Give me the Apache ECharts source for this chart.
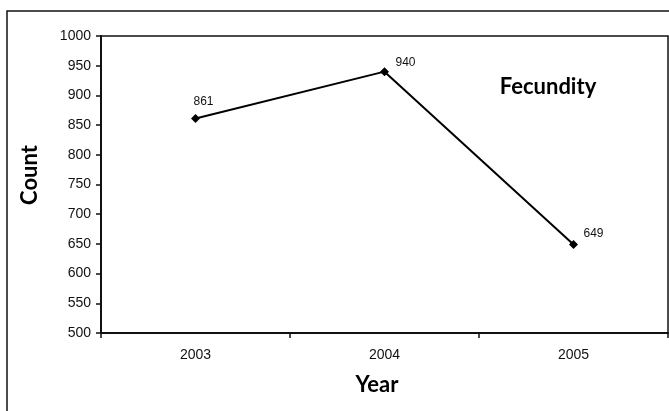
<!DOCTYPE html>
<html>
<head>
<meta charset="utf-8">
<script src="https://cdn.jsdelivr.net/npm/echarts@6/dist/echarts.min.js"></script>
<style>
  html, body { margin: 0; padding: 0; background: #fff; }
  #chart { width: 669px; height: 411px; }
</style>
</head>
<body>
<div id="chart"></div>
<script>
// Yearly fecundity counts
const years = ['2003', '2004', '2005'];
const counts = [861, 940, 649];
const yTicks = { min: 500, max: 1000, step: 50 };

// per-point value label nudges (px), label centred on the marker first
const labelNudge = [[8, -17], [21, -9], [20, -11]];

const chart = echarts.init(document.getElementById('chart'), null, { renderer: 'canvas' });

const seriesData = counts.map((v, i) => ({
  value: v,
  label: { offset: labelNudge[i] }
}));

chart.setOption({
  animation: false,
  backgroundColor: '#ffffff',
  grid: {
    left: 101, top: 36, right: 1, bottom: 78,
    show: true, borderColor: '#111', borderWidth: 1.5,
    backgroundColor: 'transparent'
  },
  xAxis: {
    type: 'category',
    data: years,
    boundaryGap: true,
    axisLine: { lineStyle: { color: '#111', width: 2 } },
    axisTick: { show: true, inside: false, length: 5, interval: 0, lineStyle: { color: '#111', width: 1.5 } },
    axisLabel: { margin: 15, fontFamily: 'Liberation Sans', fontSize: 14, color: '#111' },
    splitLine: { show: false }
  },
  yAxis: {
    type: 'value',
    min: yTicks.min, max: yTicks.max, interval: yTicks.step,
    axisLine: { show: true, lineStyle: { color: '#111', width: 2 } },
    axisTick: { show: true, inside: false, length: 5, lineStyle: { color: '#111', width: 1.5 } },
    axisLabel: {
      margin: 10, fontFamily: 'Liberation Sans', fontSize: 14, color: '#111',
      formatter: v => String(v)
    },
    splitLine: { show: false }
  },
  series: [{
    type: 'line',
    data: seriesData,
    symbol: 'diamond',
    symbolSize: 9,
    lineStyle: { color: '#000', width: 2 },
    itemStyle: { color: '#000' },
    label: {
      show: true,
      position: 'inside',
      fontFamily: 'Liberation Sans',
      fontSize: 12,
      color: '#111'
    }
  }],
  graphic: [
    {
      type: 'rect',
      shape: { x: 7, y: 11, width: 700, height: 500 },
      style: { fill: 'none', stroke: '#111', lineWidth: 1.5 },
      silent: true
    },
    {
      type: 'text',
      x: 548, y: 87,
      style: {
        text: 'Fecundity', font: 'bold 22px Lato',
        fill: '#000', textAlign: 'center', textVerticalAlign: 'middle'
      }
    },
    {
      type: 'text',
      x: 377, y: 385,
      style: {
        text: 'Year', font: 'bold 22px Lato',
        fill: '#000', textAlign: 'center', textVerticalAlign: 'middle'
      }
    },
    {
      type: 'text',
      x: 30, y: 175,
      rotation: Math.PI / 2,
      style: {
        text: 'Count', font: 'bold 22px Lato',
        fill: '#000', textAlign: 'center', textVerticalAlign: 'middle'
      }
    }
  ]
});
</script>
</body>
</html>
